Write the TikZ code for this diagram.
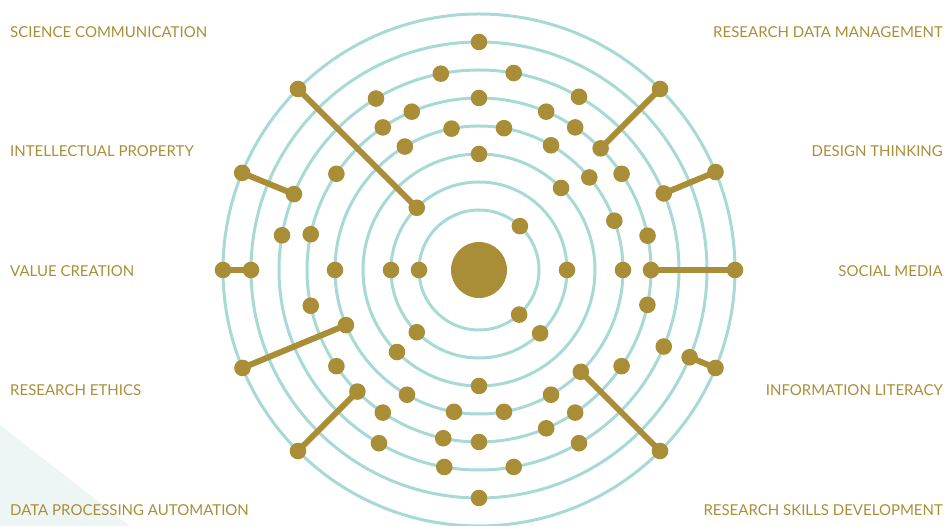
\documentclass[tikz,border=0pt]{standalone}
\usepackage{fontspec}
\setmainfont{Lato}
\usetikzlibrary{backgrounds}
\definecolor{gold}{RGB}{170,142,55}
\definecolor{ringteal}{RGB}{168,218,213}
\definecolor{pale}{RGB}{238,246,245}
\begin{document}
\begin{tikzpicture}[x=1pt,y=1pt,
  dot/.style={circle,fill=gold,inner sep=0pt,minimum size=16.6pt},
  hubdot/.style={circle,fill=gold,inner sep=0pt,minimum size=56pt},
  ring/.style={draw=ringteal,line width=3pt},
  link/.style={draw=gold,line width=6pt},
  lab/.style={text=gold,font=\fontsize{15}{15}\selectfont,inner sep=0pt}]
\useasboundingbox (-479,-256) rectangle (468,270);
% centre
\node[hubdot] (hub) at (0,0) {};
% free dots: ring/angle
\foreach \k/\a [count=\i] in {
  1/47, 1/180, 1/312,
  2/0, 2/180, 2/225, 2/314,
  3/90, 3/45, 3/225, 3/270,
  4/101, 4/80, 4/121, 4/60, 4/40, 4/20, 4/0, 4/180, 4/240, 4/260, 4/280, 4/300,
  5/90, 5/113, 5/67, 5/124, 5/56, 5/34, 5/146, 5/11.5, 5/168, 5/192, 5/214,
  5/236, 5/258, 5/270, 5/293, 5/304, 5/326, 5/348.3,
  6/101, 6/80, 6/121, 6/60, 6/170, 6/240, 6/260, 6/280, 6/300, 6/337.5,
  7/90, 7/270}
  \node[dot] (d\i) at (\a:{32+28*\k}) {};
% linked dot pairs: outer end and inner end
\foreach \a/\k [count=\i] in {
  135/2, 45/5, 157.7/6, 22.5/6, 180/7, 0/5, 202.5/4, 337.5/7, 225/5, 315/4}
{
  \node[dot] (o\i) at (\a:256) {};
  \node[dot] (n\i) at (\a:{32+28*\k}) {};
}
\begin{scope}[on background layer]
  \fill[pale] (-479,-155) -- (-349,-256) -- (-479,-256) -- cycle;
  \foreach \k in {1,...,8} \draw[ring] (hub.center) circle ({32+28*\k});
  \foreach \i in {1,...,10} \draw[link] (o\i.center) -- (n\i.center);
\end{scope}
% labels
\node[lab,anchor=west] (l1) at (-469,238) {SCIENCE COMMUNICATION};
\node[lab,anchor=west] (l2) at (-469,119) {INTELLECTUAL PROPERTY};
\node[lab,anchor=west] (l3) at (-469,-1) {VALUE CREATION};
\node[lab,anchor=west] (l4) at (-469,-120) {RESEARCH ETHICS};
\node[lab,anchor=west] (l5) at (-469,-240) {DATA PROCESSING AUTOMATION};
\node[lab,anchor=east] (r1) at (464,238) {RESEARCH DATA MANAGEMENT};
\node[lab,anchor=east] (r2) at (464,119) {DESIGN THINKING};
\node[lab,anchor=east] (r3) at (464,-1) {SOCIAL MEDIA};
\node[lab,anchor=east] (r4) at (464,-120) {INFORMATION LITERACY};
\node[lab,anchor=east] (r5) at (464,-240) {RESEARCH SKILLS DEVELOPMENT};
\end{tikzpicture}
\end{document}
